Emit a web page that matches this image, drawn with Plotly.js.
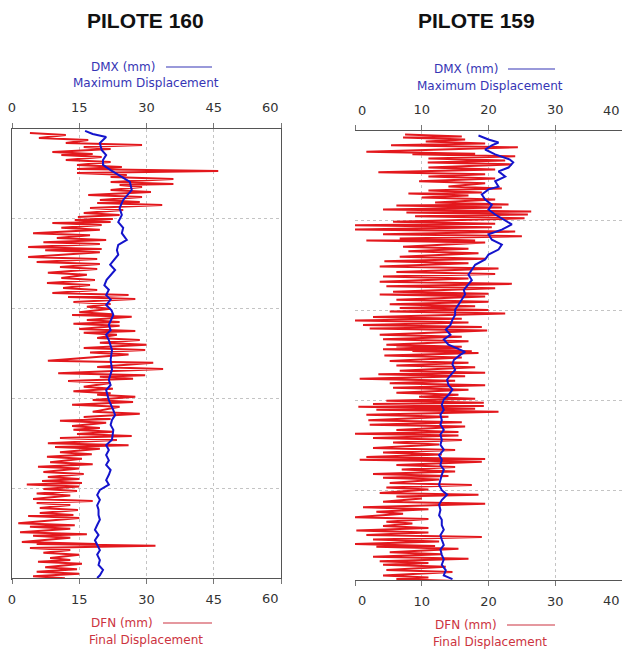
<!DOCTYPE html>
<html>
<head>
<meta charset="utf-8">
<script src="https://cdn.plot.ly/plotly-3.0.1.min.js"></script>
<style>html,body{margin:0;padding:0;background:#fff;}</style>
</head>
<body>
<div id="chart" style="width:622px;height:652px;"></div>
<script>
// ---------- PILOTE 160 ----------
const titles = ["PILOTE 160", "PILOTE 159"];
const ticks160 = [0, 15, 30, 45, 60];
const ticks159 = [0, 10, 20, 30, 40];

// DFN (final displacement) : depth rows with left / right excursion of the trace
const dfn160Depth = [0.45,1.0,1.56,2.0,2.56,2.9,3.45,4.0,4.45,4.9,5.35,5.9,6.24,6.8,7.35,7.9,8.24,8.8,9.35,9.8,10.13,10.47,11.0,11.6,12.14,12.6,13.14,13.5,14.25,14.8,15.37,16.0,16.6,17.15,17.7,18.26,18.7,19.26,19.8,20.4,20.7,21.27,21.7,22.27,22.7,23.27,23.8,24.4,24.9,25.8,26.5,27.2,27.6,28.06,28.7,29.2,29.6,30.18,30.7,31.5,32.07,32.5,33.07,33.5,33.96,34.4,35.0,35.4,36.0,36.5,37.1,37.6,38.2,38.75,39.2,39.6,40.1,40.6,41.2,41.65,42.2,42.76,43.1,43.9,44.3,44.9,45.3,46.0,46.2,46.66,47.2,47.77,48.2,48.8,49.3,49.8];
const dfn160Min = [4,6,12,16,9,11,12,14.5,14.5,14.5,22,22,24,22,17,19.6,19,17.4,16,14.7,14,9,11,4.7,10,7,3.6,7.4,3.6,5.5,10.7,8,11,7.8,11.4,9,12.5,13.7,16.7,15,13.4,16.7,13.7,15,16,19,19.6,16,17.4,8,19,10.3,19.6,12.5,16,13.7,19,18,13.4,18,16,10.7,13.4,13.7,14.5,10.7,8,9.6,10.7,7.8,8.5,5.8,7,8,6.7,3.3,7,5.5,4.7,5.5,6.2,6.2,3.6,1.4,4,1.8,4.7,2.2,5.5,4,7,8.5,5.8,7.4,5.5,4.7];
const dfn160Max = [12,17,29,22,18,20,22,24.5,46,25.6,36,36,29,31,29,28.5,33.5,24.8,24,22.5,22,20,19.6,17.4,21,19.6,20,19.6,19,19.6,19,16.7,18.5,17.4,19,26,27.5,22,22,22.5,26.7,24,24,27.5,23.4,28.5,30,29.7,26,31.5,33.7,29.7,27,22,22.5,22,27.5,27,24,28.5,22,21,19.6,22.5,26.7,23.4,26,19.6,17.8,15.6,18,15,16,15,15.6,15,14.5,13,18,13,14.7,13.7,15,14,13,16.7,13,19,32,13,15,13,15.6,14.5,15,11.8];

// DMX (maximum displacement)
const dmx160Depth = [0.2,0.55,0.9,1.56,2.34,2.9,3.45,4.0,4.57,5.23,5.9,6.8,7.9,8.8,9.58,10.36,11.0,11.6,12.36,12.9,13.5,14.0,14.6,15.1,15.7,16.3,16.8,17.4,17.9,18.5,19.0,19.6,20.2,20.7,21.3,21.8,22.4,22.9,23.5,24.05,24.6,25.7,26.8,27.95,28.5,29.06,30.2,31.3,31.85,32.4,32.96,33.5,34.6,35.2,35.75,36.3,36.9,37.4,37.97,38.5,39.1,39.6,40.2,40.76,41.3,41.9,42.4,43.0,43.5,44.1,44.65,45.2,45.8,46.3,46.9,47.4,48.0,48.55,49.1,49.7,50.0];
const dmx160 = [16.3,18,21,19.6,20,21,20.3,20.3,22,24,26.3,26.7,24.8,24,24.5,23.7,24.8,24.5,25.6,23.7,23.4,23.7,22.6,21.9,23,22,21.1,20.6,21.6,21,22,21,22.2,22.6,22,21.6,22,21,21.6,22,22.3,22,22.3,21.6,22,21,21.6,22.6,23,22.3,22,22.6,22.3,21,21.6,21,21.6,21,22,21.6,21,21.6,19.6,19,19.6,19,19.3,19.3,19.6,19,18.5,19.3,18.5,19,19.6,19,19.6,19.3,20.3,19.6,19];

// ---------- PILOTE 159 ----------
const dfn159Depth = [0.4,0.72,1.17,1.6,2.3,2.6,3.07,3.5,4.07,4.6,5.07,5.6,6.19,6.63,6.97,7.4,7.97,8.3,8.75,9.08,9.5,10.1,10.5,10.98,11.5,11.98,12.2,12.9,13.4,14.0,14.5,15.1,15.7,16.2,16.8,17.3,17.9,18.2,18.8,19.3,19.7,20.1,20.7,21.1,21.6,22.0,22.7,23.2,23.8,24.0,24.3,24.5,25.0,25.6,26.1,26.7,27.1,27.6,28.1,28.6,29.15,29.6,30.05,30.4,30.7,31.05,31.6,32.2,32.7,33.3,33.7,34.2,34.7,35.3,35.8,36.3,36.6,37.2,37.7,38.2,38.6,39.2,39.7,40.3,40.7,41.3,41.9,42.4,43.0,43.5,44.0,44.5,45.0,45.5,46.0,46.3,46.9,47.4,47.9,48.3,48.9,49.5,49.9];
const dfn159Min = [7.5,7.2,10.6,5.4,1.7,8.6,11,10.9,11,3.5,11,9.6,14,11,8,10,12,6.2,4.2,7.7,9,5.7,0,0,4.2,6.7,1.7,7.2,8,6.7,4.4,3.7,6.2,4.2,3.7,4.7,5.7,3.7,6.2,5.2,6.7,5.2,2.7,0,1.2,2.2,3.7,4.2,4.7,6.2,4.2,8.6,4.4,5.2,6.2,6.7,3.5,0.7,5.2,5.7,6.2,9.6,4.7,2.7,0.5,3.2,1.7,2,2.2,6.2,0,2.7,5.7,2.7,4.2,1.7,0.7,6.2,7,2.7,4.2,5.2,4.7,3.7,6.2,4.2,1.2,3.2,0,4.7,4.2,0.2,1.7,2.7,0,3.2,5.2,2.7,3.7,4.2,4.7,4.2,6.2];
const dfn159Max = [16,16.5,19.5,24.4,18,24,22.5,23.5,21,19.5,21,19.5,22,19,17,21,23,22,26.4,25.9,25.4,21,20.5,24,25,18,19.5,17,18.5,19.5,17,21.5,21,17,23.5,21,20,19.5,20,18,20,22.5,16,17,19,19.8,16,17,16,15.5,17.5,18.5,16,17,18,19.5,16.5,15,19.5,17,15.5,18,19.3,19.3,18,21.5,14,16,16.5,15.5,15.5,16,12.6,15,13,19.5,19,15,15,14,12.6,17.5,11,18.5,10,19.5,11,7.2,11,8.6,11,11,19,12.6,12,15.5,13,17,11,13.6,14.6,11,15.5];

const dmx159Depth = [0.5,0.95,1.28,1.6,2.06,2.6,3.18,3.5,4.07,4.5,5.07,5.6,6.2,6.5,7.08,7.64,8.2,8.75,9.3,9.87,10.4,10.98,11.5,12.1,12.65,13.2,13.77,14.3,14.9,15.45,16.0,16.6,17.1,17.7,18.2,18.8,19.3,19.9,20.5,21.0,21.6,22.1,22.7,23.2,23.8,24.1,24.6,24.9,25.5,26.0,26.6,27.2,27.7,28.3,28.8,29.4,29.9,30.5,31.05,31.6,32.2,32.7,33.3,33.8,34.4,34.95,35.5,36.1,36.6,37.2,37.7,38.3,38.85,39.4,40.0,40.5,41.1,41.6,42.2,42.8,43.3,43.9,44.4,45.0,45.5,46.1,46.6,47.2,47.7,48.3,48.9,49.5,49.9];
const dmx159 = [18.5,20,21.5,20.5,19.5,21,23.2,23.7,23,21.5,22.5,21,21.5,20,19,19.5,20.5,20,21,22.2,23.5,22,20,20.5,22,21.5,20,19.5,18,17.5,17,17.5,17,16.3,16.5,16,15.5,15,15,14.6,14.3,13.6,14.3,13.3,14,15,16.5,15.8,14.8,14.6,15,14.3,13.8,14,14.6,14,13.3,13,13.3,12.8,13,12.8,13.3,12.8,13,12.8,13.3,12.6,13,12.8,13.3,13,12.8,12.6,13,13.8,13,12.6,12.8,12.6,13,13,13.3,12.8,13,13.3,12.8,13,13.3,13,13.6,13.3,14.6];

// ---------- build zig-zag traces from the depth rows ----------
function zigzag(depth, lo, hi) {
  const x = [], y = [];
  for (let i = 0; i < depth.length; i++) {
    x.push(lo[i], hi[i]);
    y.push(depth[i], depth[i] + 0.22);
  }
  return {x, y};
}
const RED = "#e3181d", BLUE = "#1414cc";
const z160 = zigzag(dfn160Depth, dfn160Min, dfn160Max);
const z159 = zigzag(dfn159Depth, dfn159Min, dfn159Max);

const traces = [
  {x: z160.x, y: z160.y, xaxis: "x", yaxis: "y", type: "scatter", mode: "lines",
   line: {color: RED, width: 2}, name: "DFN", showlegend: false, hoverinfo: "skip"},
  {x: dmx160, y: dmx160Depth, xaxis: "x", yaxis: "y", type: "scatter", mode: "lines",
   line: {color: BLUE, width: 2}, name: "DMX", showlegend: false, hoverinfo: "skip"},
  {x: [0], y: [0], xaxis: "x2", yaxis: "y", type: "scatter", mode: "markers",
   marker: {opacity: 0}, showlegend: false, hoverinfo: "skip"},
  {x: z159.x, y: z159.y, xaxis: "x3", yaxis: "y2", type: "scatter", mode: "lines",
   line: {color: RED, width: 2}, name: "DFN", showlegend: false, hoverinfo: "skip"},
  {x: dmx159, y: dmx159Depth, xaxis: "x3", yaxis: "y2", type: "scatter", mode: "lines",
   line: {color: BLUE, width: 2}, name: "DMX", showlegend: false, hoverinfo: "skip"},
  {x: [0], y: [0], xaxis: "x4", yaxis: "y2", type: "scatter", mode: "markers",
   marker: {opacity: 0}, showlegend: false, hoverinfo: "skip"}
];

const W = 622, H = 652;
const px = v => v / W, py = v => 1 - v / H;
const tickFont = {family: "DejaVu Sans, Arial", size: 13, color: "#333"};
const midBlank = arr => arr.map((v, i) => (i === arr.length - 1) ? "" : String(v));
const edgeBlank = arr => arr.map((v, i) => (i === 0 || i === arr.length - 1) ? "" : String(v));
const GRID = "#c4c4c4", GDASH = "3px,3px";

function xAxis(range, ticks, text, domain, extra) {
  return Object.assign({
    range: range, domain: domain, tickvals: ticks, ticktext: text,
    showline: true, linecolor: "#555", linewidth: 1, ticks: "outside", ticklen: 5,
    tickcolor: "#777", tickfont: tickFont, zeroline: false, fixedrange: true,
    ticklabelstandoff: 4
  }, extra);
}
function yAxis(domain, mirror) {
  return {
    range: [50, 0], domain: domain, tickvals: [0, 10, 20, 30, 40, 50], showticklabels: false,
    ticks: "", showgrid: true, gridcolor: GRID, griddash: GDASH, gridwidth: 1,
    showline: true, linecolor: "#555", linewidth: 1, mirror: mirror, zeroline: false
  };
}

const dom160x = [px(12), px(281)], dom159x = [px(355), 1];
const dom160y = [py(578), py(129)], dom159y = [py(580), py(131)];

const layout = {
  width: W, height: H, margin: {l: 0, r: 0, t: 0, b: 0},
  paper_bgcolor: "#fff", plot_bgcolor: "#fff", showlegend: false,
  xaxis: xAxis([0, 60], ticks160, midBlank(ticks160), dom160x, {anchor: "y", side: "bottom", showgrid: true,
    gridcolor: GRID, griddash: GDASH}),
  xaxis2: xAxis([0, 60], ticks160, midBlank(ticks160), dom160x, {anchor: "y", side: "top", overlaying: "x", showgrid: false, ticklabelstandoff: 6}),
  yaxis: yAxis(dom160y, true),
  xaxis3: xAxis([0, 40], ticks159, edgeBlank(ticks159), dom159x, {anchor: "y2", side: "bottom", showgrid: true,
    gridcolor: GRID, griddash: GDASH}),
  xaxis4: xAxis([0, 40], ticks159, edgeBlank(ticks159), dom159x, {anchor: "y2", side: "top", overlaying: "x3", showgrid: false, ticklabelstandoff: 6}),
  yaxis2: yAxis(dom159y, false),
  annotations: [],
  shapes: []
};

const A = layout.annotations, S = layout.shapes;
const blueTxt = "#3535b5", redTxt = "#cc3340";
const legFont = c => ({family: "DejaVu Sans, Arial", size: 12, color: c});
function label(text, x, y, font) {
  A.push({text: text, x: px(x), y: py(y), xref: "paper", yref: "paper", showarrow: false,
    xanchor: "center", yanchor: "middle", font: font});
}
// titles
const titleFont = {family: "Liberation Sans, Arial", size: 21, color: "#111"};
label("<b>" + titles[0] + "</b>", 145, 20, titleFont);
label("<b>" + titles[1] + "</b>", 476, 20, titleFont);
// axis captions
function caption(cx, y1, y2, line, t1, t2, col) {
  label(t1, cx, y1, legFont(col));
  label(t2, line.c2, y2, legFont(col));
  S.push({type: "line", xref: "paper", yref: "paper", x0: px(line.x0), x1: px(line.x1),
    y0: py(y1), y1: py(y1), line: {color: col, width: 1.2}});
}
caption(123, 67, 83, {x0: 166, x1: 212, c2: 146}, "DMX (mm)", "Maximum Displacement", blueTxt);
caption(466, 69, 86, {x0: 508, x1: 555, c2: 490}, "DMX (mm)", "Maximum Displacement", blueTxt);
caption(122, 623, 640, {x0: 163, x1: 212, c2: 146}, "DFN (mm)", "Final Displacement", redTxt);
caption(466, 625, 642, {x0: 507, x1: 555, c2: 490}, "DFN (mm)", "Final Displacement", redTxt);
// end tick labels (placed slightly inside the frame as in the original)
label(String(ticks160[4]), 270, 108, tickFont);
label(String(ticks160[4]), 270, 598, tickFont);
label(String(ticks159[0]), 362, 110, tickFont);
label(String(ticks159[0]), 362, 600, tickFont);
label(String(ticks159[4]), 611, 110, tickFont);
label(String(ticks159[4]), 611, 600, tickFont);

Plotly.newPlot("chart", traces, layout, {staticPlot: true, displayModeBar: false});
</script>
</body>
</html>
